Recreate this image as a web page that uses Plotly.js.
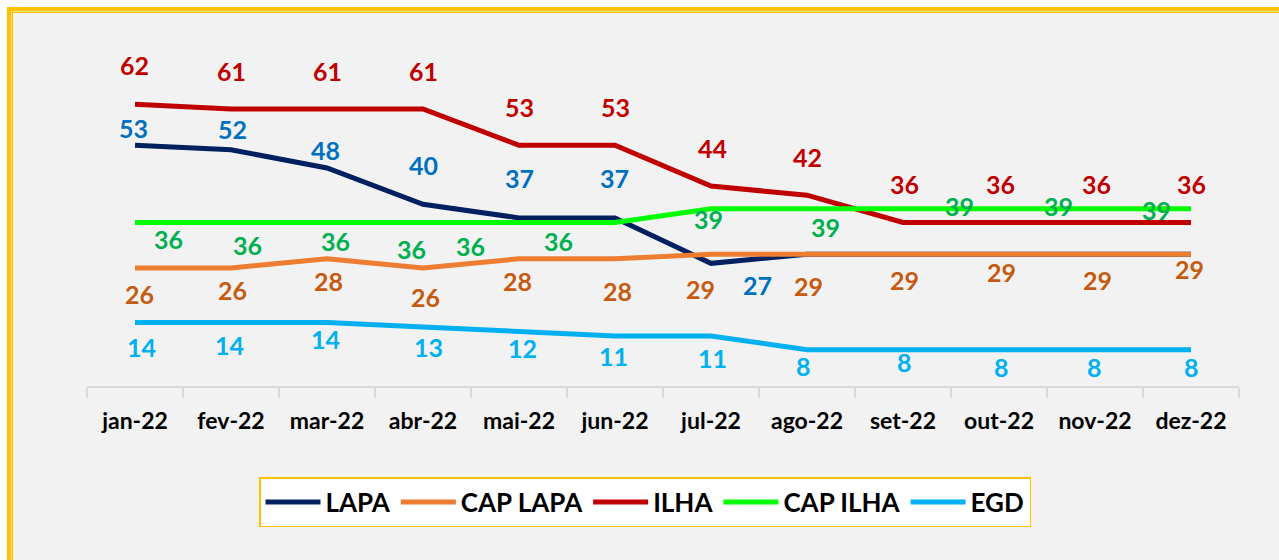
<!DOCTYPE html>
<html>
<head>
<meta charset="utf-8">
<script src="https://cdn.plot.ly/plotly-3.0.1.min.js"></script>
<style>
html, body { margin: 0; padding: 0; background: #ffffff; }
#chart { width: 1279px; height: 560px; }
</style>
</head>
<body>
<div id="chart"></div>
<script>
// ---------- data ----------
const months = ['jan-22', 'fev-22', 'mar-22', 'abr-22', 'mai-22', 'jun-22',
                'jul-22', 'ago-22', 'set-22', 'out-22', 'nov-22', 'dez-22'];
const seriesNames = ['LAPA', 'CAP LAPA', 'ILHA', 'CAP ILHA', 'EGD'];
const lapa    = [53, 52, 48, 40, 37, 37, 27, 29, 29, 29, 29, 29];
const capLapa = [26, 26, 28, 26, 28, 28, 29, 29, 29, 29, 29, 29];
const ilha    = [62, 61, 61, 61, 53, 53, 44, 42, 36, 36, 36, 36];
const capIlha = [36, 36, 36, 36, 36, 36, 39, 39, 39, 39, 39, 39];
const egd     = [14, 14, 14, 13, 12, 11, 11, 8, 8, 8, 8, 8];
// which points show a value label (1 = shown)
const lapaShown    = [1, 1, 1, 1, 1, 1, 1, 0, 0, 0, 0, 0];
const capLapaShown = [1, 1, 1, 1, 1, 1, 1, 1, 1, 1, 1, 1];
const ilhaShown    = [1, 1, 1, 1, 1, 1, 1, 1, 1, 1, 1, 1];
const capIlhaShown = [1, 1, 1, 1, 1, 1, 1, 1, 1, 1, 1, 0];
const egdShown     = [1, 1, 1, 1, 1, 1, 1, 1, 1, 1, 1, 1];

// ---------- styles ----------
const lineColors  = ['#002060', '#ED7D31', '#C00000', '#00FF00', '#00B0F0'];
const labelColors = ['#0070C0', '#C55A11', '#C00000', '#00B050', '#00B0F0'];
// label offsets in pixels (dx right, dy down) relative to each point
const labelDx = [
  [-2, 1, -2, 0, 0, -1, 46, 0, 0, 0, 0, 0],
  [4, 1, 1, 2, -2, 2, -11, 1, 1, 2, 2, -2],
  [-1, 0, 0, 0, 0, 0, 1, 0, 1, 1, 1, 0],
  [33, 16, 8, -12, -49, -57, -3, 18, 56, 59, 61, 0],
  [6, -2, -2, 5, 3, -2, 1, -4, 1, 2, -1, 0]
];
const labelDy = [
  [-16, -20, -17, -38, -39, -39, 23, 0, 0, 0, 0, 0],
  [27, 23, 23, 30, 23, 33, 36, 33, 27, 19, 27, 16],
  [-38, -37, -37, -37, -37, -37, -37, -37, -37, -37, -37, -37],
  [18, 24, 20, 28, 25, 20, 11, 19, -2, -2, 2, 0],
  [26, 24, 18, 21, 18, 21, 23, 17, 13, 18, 18, 18]
];

const FONT = 'Lato, "Open Sans", "DejaVu Sans", sans-serif';
const W = 1279, H = 560;
const M = { l: 87, r: 40, t: 68, b: 174 };
const plotW = W - M.l - M.r, plotH = H - M.t - M.b;
const px2x = p => (p - M.l) / plotW;
const py2y = p => (H - M.b - p) / plotH;

const values = [lapa, capLapa, ilha, capIlha, egd];
const shown = [lapaShown, capLapaShown, ilhaShown, capIlhaShown, egdShown];

const traces = seriesNames.map((name, s) => ({
  type: 'scatter',
  mode: 'lines',
  name: name,
  x: months,
  y: values[s],
  line: { color: lineColors[s], width: 5, shape: 'linear' },
  hoverinfo: 'skip'
}));

const annotations = [];
values.forEach((vals, s) => {
  vals.forEach((v, i) => {
    if (!shown[s][i]) return;
    annotations.push({
      xref: 'x', yref: 'y',
      x: months[i], y: v,
      text: String(v),
      showarrow: false,
      xanchor: 'center', yanchor: 'middle',
      xshift: labelDx[s][i],
      yshift: -labelDy[s][i] + 1,
      font: { family: FONT, size: 25, weight: 700, color: labelColors[s] }
    });
  });
});

const shapes = [
  {
    type: 'rect', xref: 'paper', yref: 'paper', layer: 'below',
    x0: px2x(10), x1: px2x(1300), y0: py2y(10), y1: py2y(620),
    fillcolor: '#F2F2F2',
    line: { color: '#FFC000', width: 6 }
  },
  {
    type: 'rect', xref: 'paper', yref: 'paper', layer: 'below',
    x0: px2x(11.3), x1: px2x(1300), y0: py2y(11.3), y1: py2y(620),
    fillcolor: 'rgba(0,0,0,0)',
    line: { color: '#FFE699', width: 1 }
  }
];

const layout = {
  width: W, height: H,
  margin: M,
  paper_bgcolor: '#FFFFFF',
  plot_bgcolor: 'rgba(0,0,0,0)',
  showlegend: true,
  legend: {
    orientation: 'h',
    x: px2x(645), xanchor: 'center',
    y: py2y(502), yanchor: 'middle',
    bgcolor: '#FFFFFF',
    bordercolor: '#FFC000',
    borderwidth: 1.5,
    itemwidth: 55,
    font: { family: FONT, size: 26, weight: 700, color: '#000000' }
  },
  xaxis: {
    type: 'category',
    range: [-0.5, 11.5],
    tickson: 'boundaries',
    ticks: 'outside',
    ticklen: 10,
    tickwidth: 2,
    tickcolor: '#D9D9D9',
    showline: true,
    linecolor: '#D9D9D9',
    linewidth: 2,
    showgrid: false,
    zeroline: false,
    ticklabelstandoff: 13,
    tickfont: { family: FONT, size: 23, weight: 700, color: '#000000' },
    fixedrange: true
  },
  yaxis: {
    range: [0, 70],
    visible: false,
    showgrid: false,
    zeroline: false,
    fixedrange: true
  },
  annotations: annotations,
  shapes: shapes
};

Plotly.newPlot('chart', traces, layout, { displayModeBar: false, staticPlot: true });
</script>
</body>
</html>
